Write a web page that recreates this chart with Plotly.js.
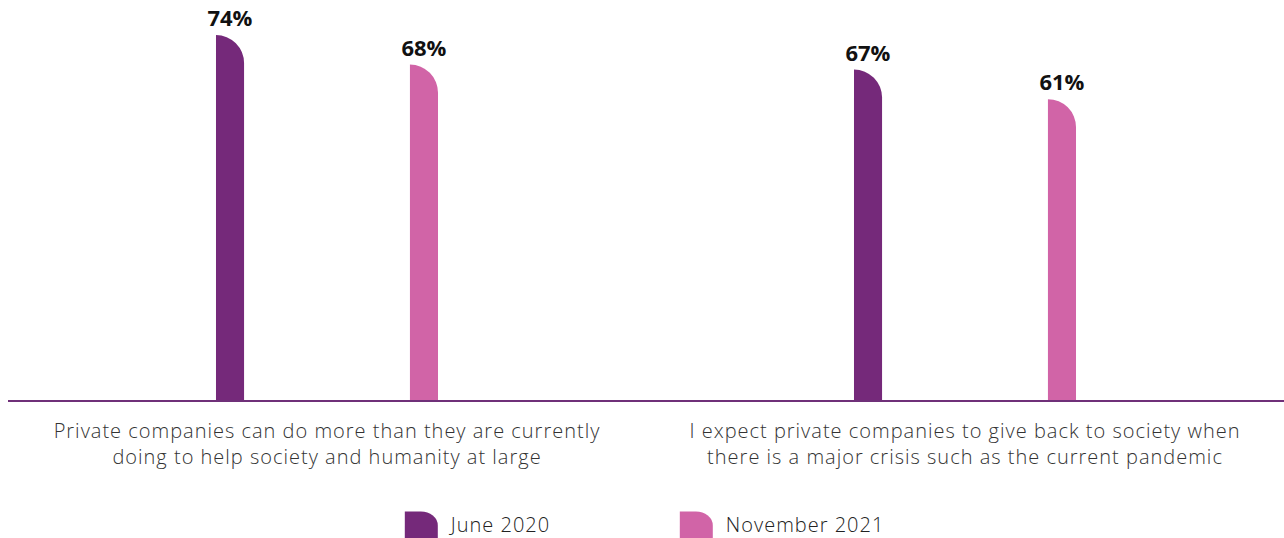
<!DOCTYPE html>
<html>
<head>
<meta charset="utf-8">
<script src="https://cdn.plot.ly/plotly-3.0.1.min.js"></script>
<style>
html,body{margin:0;padding:0;background:#fff;}
#chart{width:1284px;height:538px;}
#chart .xtick text, #chart .legendtext{letter-spacing:1px;}
</style>
</head>
<body>
<div id="chart"></div>
<script>
const categories = [
  "Private companies can do more than they are currently<br>doing to help society and humanity at large",
  "I expect private companies to give back to society when<br>there is a major crisis such as the current pandemic"
];
const seriesNames = ["June 2020", "November 2021"];
const june2020 = [74, 67];
const november2021 = [68, 61];

const dark = "#75297a";
const pink = "#d164a7";

const common = {
  type: "bar",
  x: [0, 1],
  width: 0.044,
  texttemplate: "%{y}%",
  textposition: "outside",
  constraintext: "none",
  cliponaxis: false,
  textfont: {family: "Open Sans, sans-serif", size: 22, weight: 700, color: "#111"},
  hoverinfo: "skip"
};

const traces = [
  Object.assign({}, common, {name: seriesNames[0], y: june2020, offset: -0.174, marker: {color: dark}}),
  Object.assign({}, common, {name: seriesNames[1], y: november2021, offset: 0.130, marker: {color: pink}})
];

const layout = {
  width: 1284, height: 538,
  margin: {l: 8, r: 0, t: 0, b: 138, autoexpand: false},
  paper_bgcolor: "#fff", plot_bgcolor: "#fff",
  barmode: "overlay",
  showlegend: true,
  legend: {
    orientation: "h", x: 0.300, xanchor: "left", y: -0.2625, yanchor: "top",
    font: {family: "Open Sans, sans-serif", size: 20, weight: 300, color: "#222"},
    entrywidth: 230, traceorder: "normal"
  },
  xaxis: {
    range: [-0.5, 1.5],
    tickvals: [0, 1],
    ticktext: categories,
    showline: true, linecolor: "#6f3079", linewidth: 1.5,
    showgrid: false, zeroline: false, ticks: "",
    ticklabelstandoff: 12,
    tickfont: {family: "Open Sans, sans-serif", size: 20, weight: 300, color: "#333"}
  },
  yaxis: {
    range: [0, 81.1], visible: false, showgrid: false, zeroline: false
  }
};

Plotly.newPlot("chart", traces, layout, {staticPlot: true}).then(function(gd){
  // round only the top-right corner of each bar
  gd.querySelectorAll(".barlayer .point path").forEach(function(p){
    const b = p.getBBox();
    const x0 = b.x, x1 = b.x + b.width, y0 = b.y, y1 = b.y + b.height;
    const r = Math.min(b.width, b.height);
    p.setAttribute("d", "M" + x0 + "," + y1 + "V" + y0 + "A" + r + "," + r + " 0 0 1 " + x1 + "," + (y0 + r) + "V" + y1 + "Z");
  });
  gd.querySelectorAll(".legend .legendpoints path").forEach(function(p){
    p.setAttribute("d", "M-6,15V-13H10A17,14 0 0 1 27,1V15Z");
    p.style.strokeWidth = "0";
  });
  gd.querySelectorAll(".legend .legendtext").forEach(function(t){
    t.setAttribute("x", "60");
  });
});
</script>
</body>
</html>
